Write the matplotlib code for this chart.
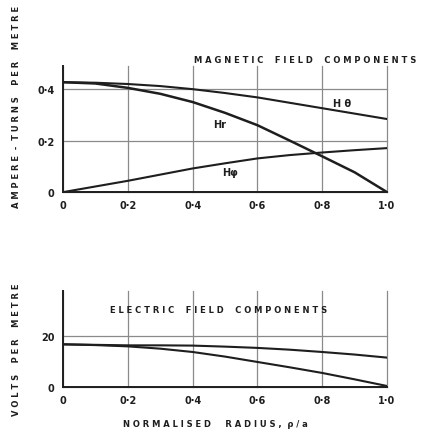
import matplotlib
matplotlib.use("Agg")
import matplotlib.pyplot as plt

# normalised radius r/a
r = [0.0, 0.1, 0.2, 0.3, 0.4, 0.5, 0.6, 0.7, 0.8, 0.9, 1.0]

# magnetic field components, ampere-turns per metre
h_theta = [0.427, 0.425, 0.42, 0.412, 0.40, 0.385, 0.368, 0.347, 0.326, 0.305, 0.284]
h_r = [0.427, 0.422, 0.405, 0.382, 0.35, 0.308, 0.26, 0.20, 0.139, 0.077, 0.0]
h_phi = [0.0, 0.022, 0.044, 0.068, 0.092, 0.112, 0.131, 0.144, 0.154, 0.163, 0.171]

# electric field components, volts per metre
e_upper = [16.7, 16.5, 16.3, 16.3, 16.2, 15.8, 15.3, 14.6, 13.7, 12.7, 11.5]
e_lower = [16.7, 16.4, 15.9, 15.0, 13.7, 11.9, 9.8, 7.7, 5.5, 3.0, 0.4]

x_ticks = [0.0, 0.2, 0.4, 0.6, 0.8, 1.0]
x_labels = ["0", "0·2", "0·4", "0·6", "0·8", "1·0"]
top_yticks = [0.0, 0.2, 0.4]
top_ylabels = ["0", "0·2", "0·4"]
bot_yticks = [0, 20]
bot_ylabels = ["0", "20"]

ink = "#1e1e1e"
grid_col = "#8a8a8a"
font = dict(family="DejaVu Sans", fontweight="bold", color=ink)

fig = plt.figure(figsize=(4.23, 4.35), dpi=100)
ax1 = fig.add_axes([0.149, 0.556, 0.766, 0.290])
ax2 = fig.add_axes([0.149, 0.108, 0.766, 0.221])

for ax in (ax1, ax2):
    ax.spines["top"].set_visible(False)
    ax.spines["right"].set_visible(False)
    for s in ("left", "bottom"):
        ax.spines[s].set_color(ink)
        ax.spines[s].set_linewidth(1.4)
    ax.set_xlim(0, 1.0)
    ax.set_xticks(x_ticks)
    ax.set_xticklabels(x_labels, fontsize=7, **font)
    ax.tick_params(length=0, pad=6)
    ax.grid(True, color=grid_col, linewidth=0.9)
    ax.set_axisbelow(True)
    for gl in ax.get_xgridlines() + ax.get_ygridlines():
        gl.set_clip_on(False)

ax1.set_ylim(0, 0.49)
ax1.set_yticks(top_yticks)
ax1.set_yticklabels(top_ylabels, fontsize=7, **font)
ax1.plot(r, h_theta, color=ink, lw=1.5)
ax1.plot(r, h_r, color=ink, lw=1.8)
ax1.plot(r, h_phi, color=ink, lw=1.5)
ax1.text(0.833, 0.346, "H θ", fontsize=7, va="center", **font)
ax1.text(0.463, 0.265, "Hr", fontsize=7, va="center", **font)
ax1.text(0.49, 0.078, "Hφ", fontsize=7, va="center", **font)

ax2.set_ylim(0, 37.6)
ax2.set_yticks(bot_yticks)
ax2.set_yticklabels(bot_ylabels, fontsize=7, **font)
ax2.plot(r, e_upper, color=ink, lw=1.5)
ax2.plot(r, e_lower, color=ink, lw=1.5)

fig.text(0.985, 0.862, "M A G N E T I C    F I E L D    C O M P O N E N T S",
         fontsize=6, ha="right", va="center", **font)
fig.text(0.26, 0.287, "E L E C T R I C    F I E L D    C O M P O N E N T S",
         fontsize=6, ha="left", va="center", **font)
fig.text(0.04, 0.755, "A M P E R E  -  T U R N S    P E R    M E T R E",
         fontsize=6, rotation=90, ha="center", va="center", **font)
fig.text(0.04, 0.195, "V O L T S    P E R    M E T R E",
         fontsize=6, rotation=90, ha="center", va="center", **font)
fig.text(0.51, 0.023, "N O R M A L I S E D     R A D I U S ,  ρ / a",
         fontsize=6, ha="center", va="center", **font)

fig.savefig("out.png", dpi=100, facecolor="white")
